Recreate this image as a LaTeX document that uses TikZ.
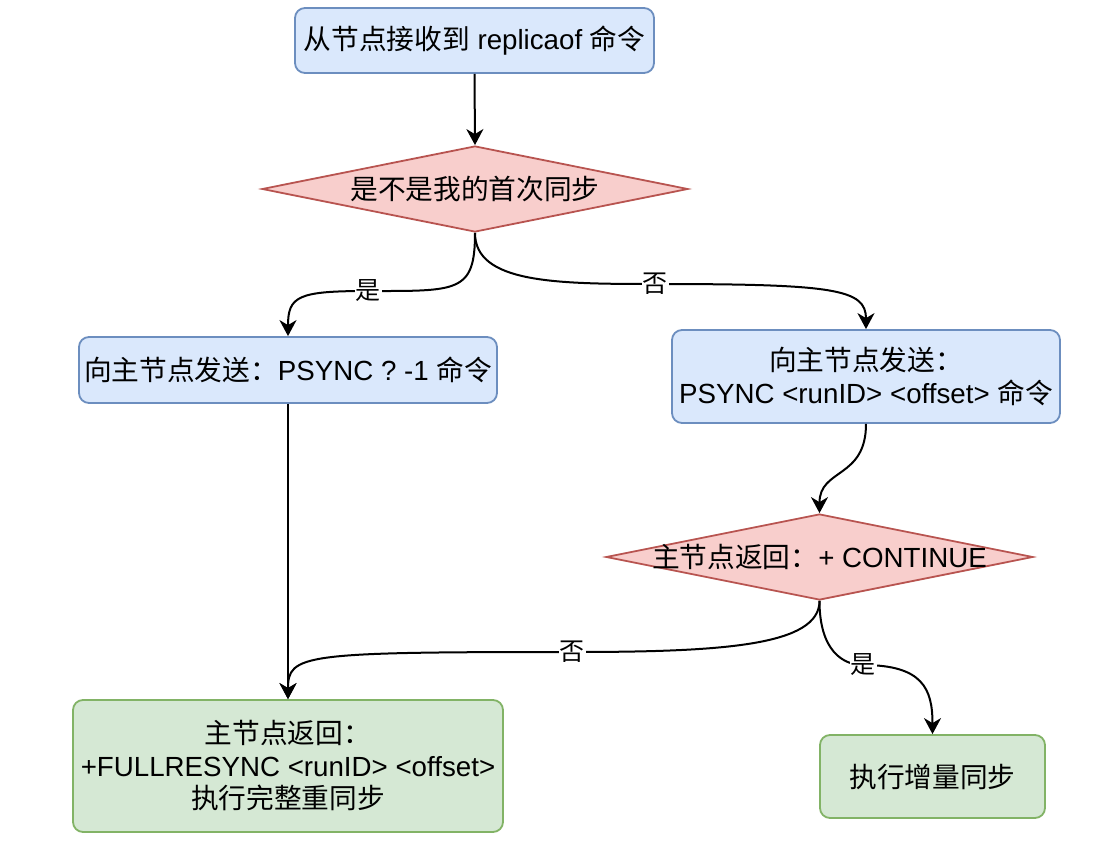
\documentclass[tikz,border=0pt]{standalone}
\usepackage{fontspec}
\setmainfont{Liberation Sans}
\newfontfamily\cjk{Noto Sans CJK SC}
\newcommand\zh[1]{{\cjk #1}}
\usetikzlibrary{shapes.geometric,arrows.meta}
\definecolor{bfill}{HTML}{DAE8FC}
\definecolor{bdraw}{HTML}{6C8EBF}
\definecolor{rfill}{HTML}{F8CECC}
\definecolor{rdraw}{HTML}{B85450}
\definecolor{gfill}{HTML}{D5E8D4}
\definecolor{gdraw}{HTML}{82B366}
\tikzset{
  base/.style={rounded corners=10pt, line width=1.8pt, inner sep=0pt, align=center,
    font=\fontsize{27.7}{32.5}\selectfont},
  bluebox/.style={base, fill=bfill, draw=bdraw},
  greenbox/.style={base, fill=gfill, draw=gdraw},
  dia/.style={diamond, fill=rfill, draw=rdraw, line width=1.8pt, inner sep=0pt},
  txt/.style={align=center, font=\fontsize{27.7}{32.5}\selectfont, inner sep=0pt},
  lbl/.style={fill=white, font=\fontsize{25}{29}\selectfont, inner sep=1pt},
  conn/.style={line width=2pt, -{Stealth[length=16pt,width=17pt,inset=5pt]}},
}
\begin{document}
\begin{tikzpicture}[x=1pt,y=-1pt]
\useasboundingbox (0,0) rectangle (1101,843);
% nodes
\node[bluebox, minimum width=359pt, minimum height=65pt] (top) at (474.5,40.5)
  {\zh{从节点接收到} replicaof \zh{命令}};
\node[dia, minimum width=426pt, minimum height=86pt] (d1) at (475,189) {};
\node[txt] (d1t) at (d1) {\zh{是不是我的首次同步}};
\node[bluebox, minimum width=418pt, minimum height=66pt] (lb) at (288,370)
  {\zh{向主节点发送：}PSYNC ? -1 \zh{命令}};
\node[bluebox, minimum width=388pt, minimum height=93pt] (rb) at (866,376.5)
  {\zh{向主节点发送：}\\PSYNC <runID> <offset> \zh{命令}};
\node[dia, minimum width=427pt, minimum height=86pt] (d2) at (819.5,557) {};
\node[txt] (d2t) at (d2) {\zh{主节点返回：}+ CONTINUE};
\node[greenbox, minimum width=430pt, minimum height=132pt] (gl) at (288,766)
  {\zh{主节点返回：}\\+FULLRESYNC <runID> <offset>\\\zh{执行完整重同步}};
\node[greenbox, minimum width=225pt, minimum height=83pt] (gr) at (932.5,776.5)
  {\zh{执行增量同步}};
% connectors
\draw[conn] (top.south) -- (d1.north);
\draw[conn] (d1.south) .. controls +(0,60) and +(90,0) .. (368,291)
  node[lbl] {\zh{是}}
  .. controls +(-70,0) and +(0,-40) .. (lb.north);
\draw[conn] (d1.south) .. controls +(0,50) and +(-100,0) .. (655,284)
  node[lbl] {\zh{否}}
  .. controls +(180,0) and +(0,-40) .. (rb.north);
\draw[conn] (lb.south) -- (gl.north);
\draw[conn] (rb.south) .. controls +(0,55) and +(0,-45) .. (d2.north);
\draw[conn] (d2.south) .. controls +(0,45) and +(150,0) .. (572,652)
  node[lbl] {\zh{否}}
  .. controls +(-270,0) and +(0,-45) .. (gl.north);
\draw[conn] (d2.south) .. controls +(0,50) and +(-20,0) .. (863,665)
  node[lbl] {\zh{是}}
  .. controls +(60,0) and +(0,-45) .. (gr.north);
\end{tikzpicture}
\end{document}
